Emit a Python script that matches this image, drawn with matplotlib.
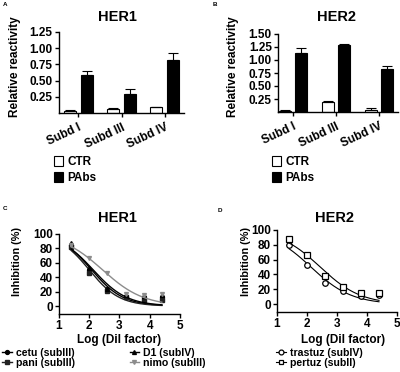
import matplotlib
matplotlib.use("Agg")
import matplotlib.pyplot as plt
from matplotlib.lines import Line2D
import numpy as np

plt.rcParams['font.family'] = ['Liberation Sans', 'DejaVu Sans']
plt.rcParams['font.weight'] = 'bold'

# --- data ---------------------------------------------------------------
subdomains = ['Subd I', 'Subd III', 'Subd IV']

her1_ctr = [0.03, 0.06, 0.09]
her1_ctr_err = [0.01, 0.015, 0.01]
her1_pabs = [0.58, 0.30, 0.82]
her1_pabs_err = [0.07, 0.07, 0.11]

her2_ctr = [0.02, 0.20, 0.03]
her2_ctr_err = [0.01, 0.01, 0.05]
her2_pabs = [1.14, 1.29, 0.82]
her2_pabs_err = [0.10, 0.01, 0.07]

log_dil = [1.4, 2.0, 2.6, 3.2, 3.8, 4.4]

cetu = [85, 50, 23, 13, 12, 12]
pani = [82, 46, 21, 12, 9, 8]
d1 = [87, 52, 24, 15, 14, 15]
nimo = [84, 67, 45, 16, 15, 17]

trastuz = [80, 53, 28, 18, 11, 13]
pertuz = [88, 66, 38, 23, 15, 15]

W, H = 400, 372


def box(left, top, right, bottom):
    return [left / W, 1 - bottom / H, (right - left) / W, (bottom - top) / H]


def fig_xy(px, py):
    return px / W, 1 - py / H


def fit_sigmoid(x, y):
    # dose-response fit with top=100, bottom=0 (grid search on logEC50 / slope)
    x = np.asarray(x, float)
    y = np.asarray(y, float)
    c = np.linspace(1.0, 4.0, 301)[:, None, None]
    h = np.linspace(0.2, 3.0, 281)[None, :, None]
    pred = 100.0 / (1 + 10 ** ((x[None, None, :] - c) * h))
    sse = ((pred - y) ** 2).sum(axis=2)
    i, j = np.unravel_index(np.argmin(sse), sse.shape)
    return c[i, 0, 0], h[0, j, 0]


def curve(x, y):
    c, h = fit_sigmoid(x, y)
    xs = np.linspace(min(x), max(x), 200)
    return xs, 100.0 / (1 + 10 ** ((xs - c) * h))


def style_axes(ax):
    for s in ['top', 'right']:
        ax.spines[s].set_visible(False)
    for s in ['left', 'bottom']:
        ax.spines[s].set_linewidth(1.0)
    ax.tick_params(length=3, width=1.0, pad=1.5, labelsize=8.5)
    for lab in ax.get_yticklabels() + ax.get_xticklabels():
        lab.set_fontweight('bold')


fig = plt.figure(figsize=(4, 3.72), dpi=100)


# --- bar panels -----------------------------------------------------------
def bar_panel(rect, ctr, ctr_err, pabs, pabs_err, xlim, ymax, yticks, title,
              title_x, ylab_x, leg_x):
    ax = fig.add_axes(rect)
    x = np.arange(len(subdomains))
    off, bw = 0.19, 0.28
    b1 = ax.bar(x - off, ctr, bw, color='white', edgecolor='black', linewidth=0.8,
                yerr=[np.zeros(3), ctr_err], capsize=3.5,
                error_kw=dict(elinewidth=0.8, capthick=0.8), label='CTR')
    b2 = ax.bar(x + off, pabs, bw, color='black', edgecolor='black', linewidth=0.8,
                yerr=[np.zeros(3), pabs_err], capsize=3.5,
                error_kw=dict(elinewidth=0.8, capthick=0.8), label='PAbs')
    ax.set_xlim(*xlim)
    ax.set_ylim(0, ymax)
    ax.set_yticks(yticks)
    ax.set_yticklabels(['%.2f' % v for v in yticks])
    ax.set_xticks(x)
    ax.set_xticklabels(subdomains, rotation=25, ha='right', rotation_mode='anchor')
    style_axes(ax)
    ax.tick_params(axis='x', pad=3)
    fig.text(*fig_xy(title_x, 17), title, ha='center', va='center',
             fontsize=10.5, fontweight='bold')
    fig.text(*fig_xy(ylab_x, 67), 'Relative reactivity', ha='center', va='center',
             rotation=90, fontsize=8.5, fontweight='bold')
    ax.legend([b1, b2], ['CTR', 'PAbs'], loc='upper left',
              bbox_to_anchor=fig_xy(leg_x, 156), bbox_transform=fig.transFigure,
              frameon=False, fontsize=8.5, handlelength=0.75, handleheight=0.9,
              handletextpad=0.4, labelspacing=0.35, borderpad=0, borderaxespad=0)
    return ax


axA = bar_panel(box(59, 32, 184, 113), her1_ctr, her1_ctr_err, her1_pabs,
                her1_pabs_err, (-0.45, 2.45), 1.25,
                [0.25, 0.5, 0.75, 1.0, 1.25], 'HER1', 117, 15, 54)
axB = bar_panel(box(278, 34, 398, 112), her2_ctr, her2_ctr_err, her2_pabs,
                her2_pabs_err, (-0.35, 2.45), 1.5,
                [0.25, 0.5, 0.75, 1.0, 1.25, 1.5], 'HER2', 336, 233, 272)


# --- inhibition panels ------------------------------------------------------
def inhib_panel(rect, ybot, title, title_x, ylab_x, xlab_x):
    ax = fig.add_axes(rect)
    ax.set_xlim(1, 5)
    ax.set_ylim(ybot, 100)
    ax.set_xticks([1, 2, 3, 4, 5])
    ax.set_yticks([0, 20, 40, 60, 80, 100])
    style_axes(ax)
    fig.text(*fig_xy(title_x, 218), title, ha='center', va='center',
             fontsize=10.5, fontweight='bold')
    fig.text(*fig_xy(ylab_x, 262), 'Inhibition (%)', ha='center', va='center',
             rotation=90, fontsize=7.8, fontweight='bold')
    fig.text(*fig_xy(xlab_x, 340), 'Log (Dil factor)', ha='center', va='center',
             fontsize=8.5, fontweight='bold')
    return ax


axC = inhib_panel(box(59, 233.7, 180, 314), -11, 'HER1', 117, 17, 119)
axD = inhib_panel(box(277, 229.7, 397, 312), -10.3, 'HER2', 335, 246, 343)

series_c = [('cetu (subIII)', cetu, 'o', 'black'),
            ('pani (subIII)', pani, 's', '#222222'),
            ('D1 (subIV)', d1, '^', 'black'),
            ('nimo (subIII)', nimo, 'v', '#8c8c8c')]
handles_c = []
for name, vals, mk, col in series_c:
    xs, ys = curve(log_dil, vals)
    axC.plot(xs, ys, color=col, lw=1.0)
    axC.plot(log_dil, vals, ls='none', marker=mk, ms=2.8, color=col)
    handles_c.append(Line2D([], [], color=col, lw=1.0, marker=mk, ms=2.8))

series_d = [('trastuz (subIV)', trastuz, 'o'),
            ('pertuz (subII)', pertuz, 's')]
handles_d = []
for name, vals, mk in series_d:
    xs, ys = curve(log_dil, vals)
    axD.plot(xs, ys, color='black', lw=0.8)
    axD.plot(log_dil, vals, ls='none', marker=mk, ms=4, mfc='white',
             mec='black', mew=0.9)
    handles_d.append(Line2D([], [], color='black', lw=0.8, marker=mk, ms=3.5,
                            mfc='white', mec='black', mew=0.9))

axC.legend(handles_c, [s[0] for s in series_c], loc='upper left', ncol=2,
           bbox_to_anchor=fig_xy(2, 348), bbox_transform=fig.transFigure,
           frameon=False, fontsize=7.6, handlelength=0.9, handletextpad=0.4,
           labelspacing=0.0, columnspacing=5.2, borderpad=0, borderaxespad=0)
axD.legend(handles_d, [s[0] for s in series_d], loc='upper left',
           bbox_to_anchor=fig_xy(276, 348), bbox_transform=fig.transFigure,
           frameon=False, fontsize=7.6, handlelength=0.9, handletextpad=0.4,
           labelspacing=0.0, borderpad=0, borderaxespad=0)

# panel letters
for letter, px, py in [('A', 3, 5), ('B', 213, 5), ('C', 3, 209), ('D', 218, 210)]:
    fig.text(*fig_xy(px, py), letter, ha='left', va='center', fontsize=4.5,
             fontweight='bold')

fig.savefig('out.png', dpi=100)
